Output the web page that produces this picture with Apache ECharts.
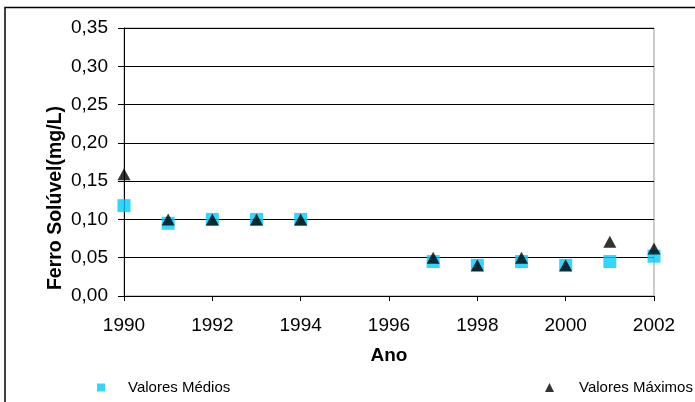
<!DOCTYPE html>
<html>
<head>
<meta charset="utf-8">
<script src="https://cdn.jsdelivr.net/npm/echarts@6/dist/echarts.min.js"></script>
<style>
  html, body { margin: 0; padding: 0; background: #fff; }
  #chart { width: 695px; height: 402px; }
</style>
</head>
<body>
<div id="chart"></div>
<script>
// Ferro solúvel (mg/L) por ano
const anos = [1990, 1991, 1992, 1993, 1994, 1997, 1998, 1999, 2000, 2001, 2002];
const valoresMedios = [0.118, 0.095, 0.10, 0.10, 0.10, 0.045, 0.04, 0.045, 0.04, 0.045, 0.052];
const valoresMaximos = [0.159, 0.10, 0.10, 0.10, 0.10, 0.05, 0.04, 0.05, 0.04, 0.071, 0.062];
const nomeSeries = ['Valores Médios', 'Valores Máximos'];

const FONT = 'Arial, "Liberation Sans", sans-serif';

const pares = (xs, ys) => xs.map((x, i) => [x, ys[i]]);

const chart = echarts.init(document.getElementById('chart'), null, { renderer: 'canvas' });

chart.setOption({
  animation: false,
  backgroundColor: '#fff',
  textStyle: { fontFamily: FONT },
  graphic: [{
    type: 'rect',
    silent: true,
    z: -1,
    shape: { x: 5, y: 7.5, width: 800, height: 500 },
    style: { fill: 'none', stroke: '#000', lineWidth: 1.5 }
  }],
  grid: {
    left: 124, right: 41, top: 28, bottom: 106,
    show: true, borderColor: '#999', borderWidth: 1, backgroundColor: 'transparent'
  },
  xAxis: {
    type: 'value',
    min: 1990, max: 2002, interval: 2,
    name: 'Ano',
    nameLocation: 'middle',
    nameGap: 50,
    nameMoveOverlap: false,
    nameTextStyle: { fontFamily: FONT, fontSize: 19, fontWeight: 'bold', color: '#000' },
    axisLine: { lineStyle: { color: '#000', width: 1 } },
    axisTick: { show: true, inside: false, length: 5, lineStyle: { color: '#000' } },
    axisLabel: { margin: 20, fontFamily: FONT, fontSize: 19, color: '#000', formatter: v => String(v) },
    splitLine: { show: false }
  },
  yAxis: {
    type: 'value',
    min: 0, max: 0.35, interval: 0.05,
    name: 'Ferro Solúvel(mg/L)',
    nameLocation: 'middle',
    nameGap: 58,
    nameMoveOverlap: false,
    nameTextStyle: { fontFamily: FONT, fontSize: 19.5, fontWeight: 'bold', color: '#000',
      padding: [0, 72, 0, 0] },
    axisLine: { show: true, lineStyle: { color: '#000', width: 1 } },
    axisTick: { show: true, inside: false, length: 6, lineStyle: { color: '#000' } },
    axisLabel: { margin: 16, fontFamily: FONT, fontSize: 19, color: '#000',
      formatter: v => v.toFixed(2).replace('.', ',') },
    splitLine: { show: true, lineStyle: { color: '#000', width: 1 } }
  },
  legend: [{
    data: [nomeSeries[0]],
    left: 97, top: 380, padding: 0,
    itemWidth: 8, itemHeight: 8,
    icon: 'rect',
    textStyle: { fontFamily: FONT, fontSize: 15, color: '#000', padding: [0, 0, 0, 18] }
  }, {
    data: [nomeSeries[1]],
    left: 545, top: 380, padding: 0,
    itemWidth: 9, itemHeight: 9,
    icon: 'triangle',
    textStyle: { fontFamily: FONT, fontSize: 15, color: '#000', padding: [0, 0, 0, 20] }
  }],
  series: [{
    name: nomeSeries[0],
    type: 'scatter',
    symbol: 'rect',
    symbolSize: 13,
    itemStyle: { color: '#00CCFF' },
    data: pares(anos, valoresMedios),
    z: 2
  }, {
    name: nomeSeries[1],
    type: 'scatter',
    symbol: 'triangle',
    symbolSize: [13, 12],
    itemStyle: { color: '#000' },
    data: pares(anos, valoresMaximos),
    z: 3
  }]
});
</script>
</body>
</html>
